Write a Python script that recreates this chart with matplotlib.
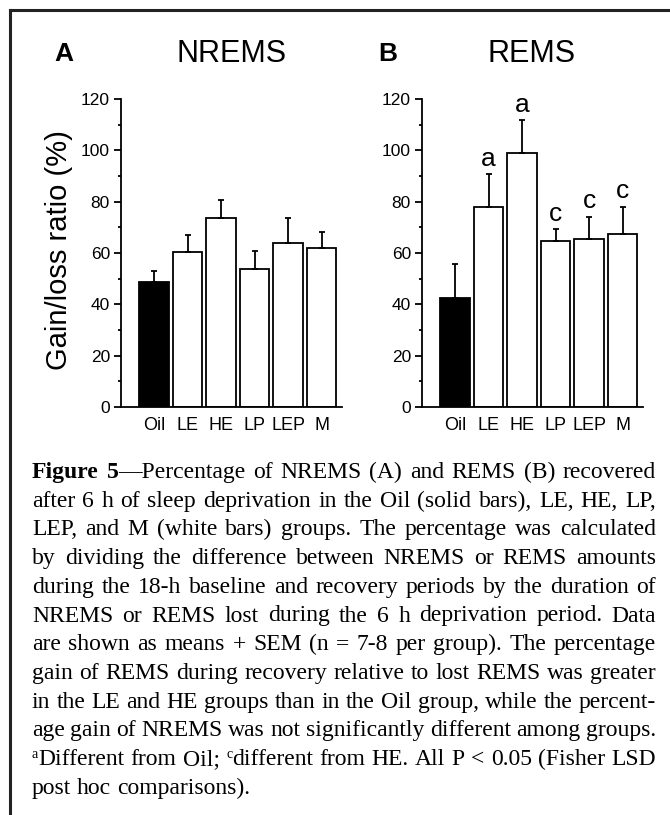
import matplotlib
matplotlib.use("Agg")
import matplotlib.pyplot as plt
from matplotlib.lines import Line2D

# data
groups = ["Oil", "LE", "HE", "LP", "LEP", "M"]
nrems_mean = [48.7, 60.5, 73.5, 53.6, 63.8, 61.9]
nrems_sem = [4.4, 6.5, 7.1, 7.2, 10.0, 6.4]
rems_mean = [42.3, 77.8, 99.1, 64.7, 65.5, 67.3]
rems_sem = [13.3, 12.8, 12.7, 4.7, 8.7, 10.8]
rems_letters = ["", "a", "a", "c", "c", "c"]
bar_colors = ["black", "white", "white", "white", "white", "white"]

caption_lines = [
    "*Figure* *5*—Percentage of NREMS (A) and REMS (B) recovered",
    "after 6 h of sleep deprivation in the Oil (solid bars), LE, HE, LP,",
    "LEP, and M (white bars) groups. The percentage was calculated",
    "by dividing the difference between NREMS or REMS amounts",
    "during the 18-h baseline and recovery periods by the duration of",
    "NREMS or REMS lost during the 6 h deprivation period. Data",
    "are shown as means + SEM (n = 7-8 per group). The percentage",
    "gain of REMS during recovery relative to lost REMS was greater",
    "in the LE and HE groups than in the Oil group, while the percent-",
    "age gain of NREMS was not significantly different among groups.",
    "^aDifferent from Oil; ^cdifferent from HE. All P < 0.05 (Fisher LSD",
    "post hoc comparisons).",
]

plt.rcParams["font.family"] = ["Liberation Sans", "DejaVu Sans"]

W, H = 670, 815
fig = plt.figure(figsize=(W / 100, H / 100), dpi=100)


def fx(px):
    return px / W


def fy(py):
    return 1 - py / H


def panel(left, means, sems, letters):
    ax = fig.add_axes([fx(left), fy(407), 221 / W, 308 / H])
    x = list(range(len(groups)))
    ax.bar(x, means, width=0.89, color=bar_colors, edgecolor="black",
           linewidth=1.3, zorder=2)
    ax.errorbar(x, means, yerr=[[0] * len(means), sems], fmt="none",
                ecolor="black", elinewidth=1.3, capsize=2.3, capthick=1.3,
                zorder=3)
    for i, let in enumerate(letters):
        if let:
            ax.annotate(let, (x[i], means[i] + sems[i]), xytext=(0, 6),
                        textcoords="offset points", ha="center",
                        va="baseline", fontsize=19)
    ax.set_xlim(-0.985, 5.61)
    ax.set_ylim(0, 120)
    ax.set_yticks(range(0, 121, 20))
    ax.set_yticks(range(10, 120, 20), minor=True)
    ax.set_xticks(x)
    ax.set_xticklabels(groups)
    for s in ["top", "right"]:
        ax.spines[s].set_visible(False)
    for s in ["left", "bottom"]:
        ax.spines[s].set_linewidth(1.3)
    ax.tick_params(axis="y", which="major", direction="out", length=5,
                   width=1.3, labelsize=12.5, pad=3)
    ax.tick_params(axis="y", which="minor", direction="out", length=2.5,
                   width=1.3)
    ax.tick_params(axis="x", length=0, labelsize=13, pad=7)
    ax.patch.set_visible(False)
    return ax


axA = panel(121, nrems_mean, nrems_sem, [""] * 6)
axB = panel(422, rems_mean, rems_sem, rems_letters)

fig.text(fx(64), fy(54), "A", fontsize=19, fontweight="bold",
         ha="center", va="center")
fig.text(fx(232), fy(54), "NREMS", fontsize=22, ha="center", va="center")
fig.text(fx(388), fy(54), "B", fontsize=19, fontweight="bold",
         ha="center", va="center")
fig.text(fx(532), fy(54), "REMS", fontsize=22, ha="center", va="center")
fig.text(fx(59), fy(250), "Gain/loss ratio (%)", fontsize=21,
         rotation=90, ha="center", va="center")

# frame: top and left rules
fig.add_artist(Line2D([fx(10), fx(670)], [fy(10), fy(10)], color="#222222",
                      linewidth=2.2))
fig.add_artist(Line2D([fx(10), fx(10)], [fy(10), fy(814)], color="#222222",
                      linewidth=2.2))

# caption, justified word by word
renderer = fig.canvas.get_renderer()
cap_left, cap_right = 32, 656
base0, step = 478, 28.7
serif = ["Liberation Serif", "DejaVu Serif"]
cap_size = 17


def make_pieces(token):
    pieces = []
    if token.startswith("^"):
        pieces.append((token[1], "sup"))
        token = token[2:]
    parts = token.split("*")
    for k, p in enumerate(parts):
        if p:
            pieces.append((p, "b" if k % 2 == 1 else "n"))
    return pieces


def draw_piece(text, style):
    if style == "sup":
        return fig.text(0, 0, text, fontsize=10, family=serif, va="baseline")
    return fig.text(0, 0, text, fontsize=cap_size, family=serif,
                    va="baseline",
                    fontweight="bold" if style == "b" else "normal")


space_t = fig.text(0, 0, "a a", fontsize=cap_size, family=serif)
aa_t = fig.text(0, 0, "aa", fontsize=cap_size, family=serif)
space_w = (space_t.get_window_extent(renderer).width
           - aa_t.get_window_extent(renderer).width)
space_t.remove()
aa_t.remove()

for li, line in enumerate(caption_lines):
    words = []
    for tok in line.split(" "):
        arts = []
        for text, style in make_pieces(tok):
            t = draw_piece(text, style)
            w = t.get_window_extent(renderer).width
            arts.append((t, style, w))
        words.append(arts)
    widths = [sum(a[2] for a in w) for w in words]
    last = li == len(caption_lines) - 1
    if last:
        gap = space_w
    else:
        gap = (cap_right - cap_left - sum(widths)) / (len(words) - 1)
    xpos = cap_left
    ybase = base0 + li * step
    for w, ww in zip(words, widths):
        xp = xpos
        for t, style, pw in w:
            yy = ybase - 7 if style == "sup" else ybase
            t.set_position((fx(xp), fy(yy)))
            xp += pw
        xpos += ww + gap

fig.savefig("out.png", dpi=100)
